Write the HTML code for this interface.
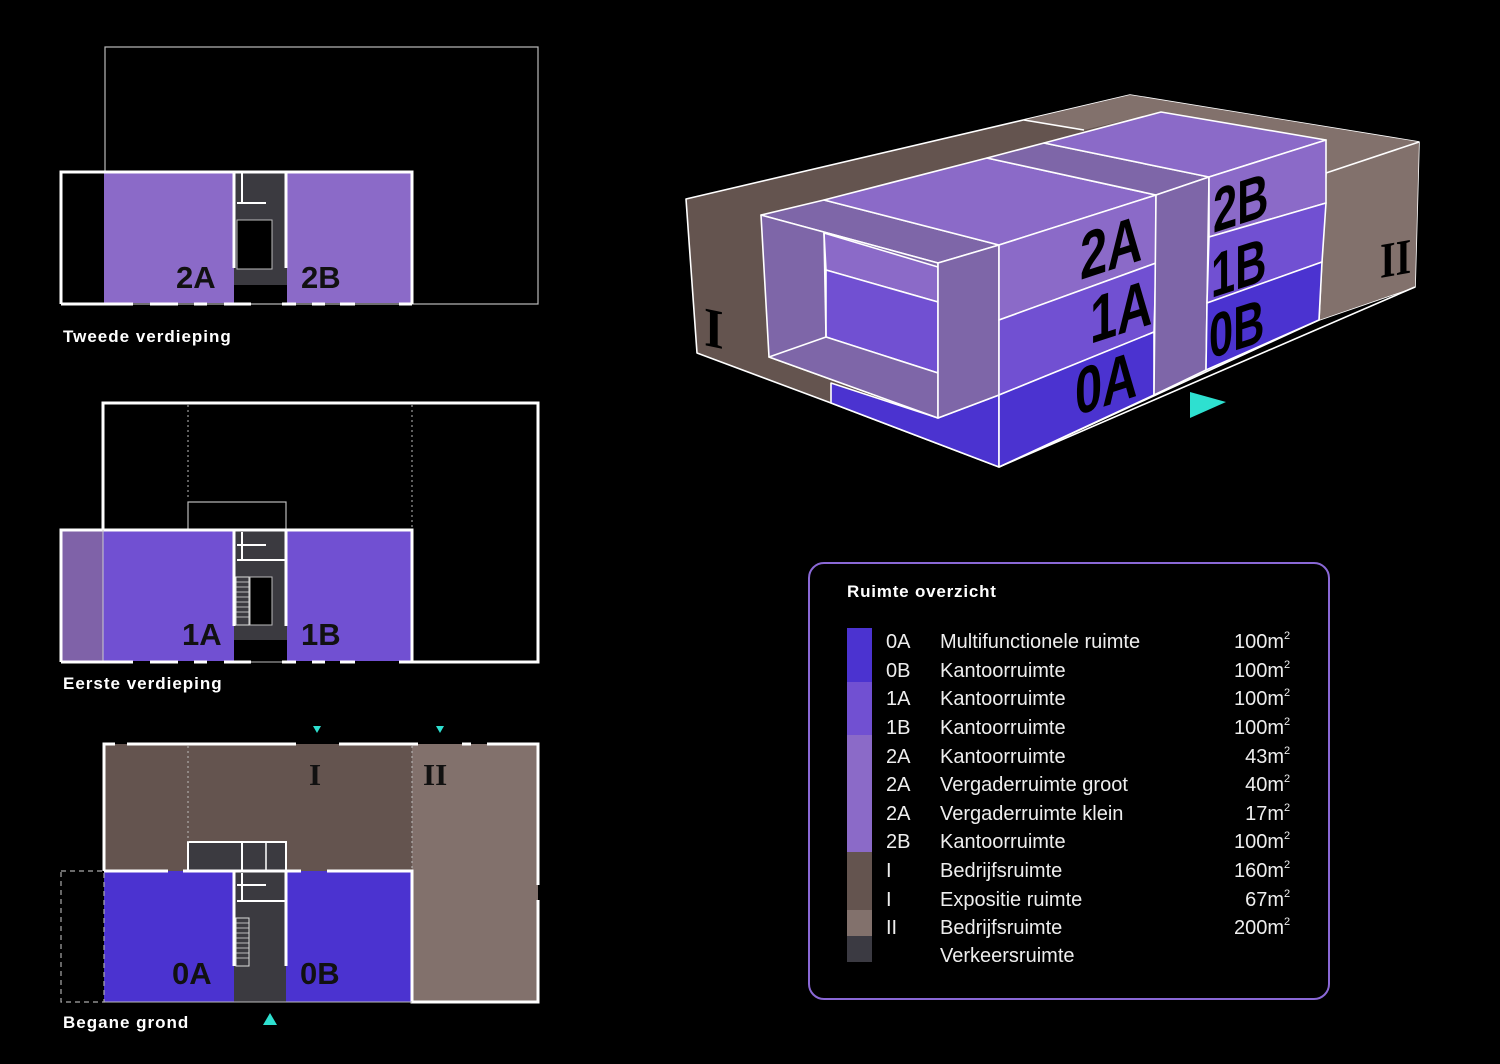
<!DOCTYPE html>
<html><head><meta charset="utf-8">
<style>
html,body{margin:0;padding:0;background:#000;}
svg{display:block;}
.cap{font-family:"Liberation Sans",sans-serif;font-weight:bold;font-size:17px;fill:#fff;letter-spacing:1px;}
.pl{font-family:"Liberation Sans",sans-serif;font-weight:bold;font-size:31px;fill:#111;}
.lg{font-family:"Liberation Sans",sans-serif;font-size:20px;fill:#eee;}
.big{font-family:"Liberation Sans",sans-serif;font-weight:bold;fill:#000;}
</style></head>
<body>
<svg width="1500" height="1064" viewBox="0 0 1500 1064" xmlns="http://www.w3.org/2000/svg">
<rect width="1500" height="1064" fill="#000"/>

<!-- ===== Tweede verdieping ===== -->
<rect x="105" y="47" width="433" height="257" fill="none" stroke="#bbb" stroke-width="1.2"/>
<rect x="104" y="173" width="130" height="130" fill="#8b6ac8"/>
<rect x="287" y="173" width="124" height="130" fill="#8b6ac8"/>
<rect x="234" y="173" width="53" height="112" fill="#3b3a40"/>
<rect x="237" y="220" width="35" height="49" fill="#000" stroke="#bbb" stroke-width="1"/>
<line x1="237" y1="203" x2="266" y2="203" stroke="#fff" stroke-width="2"/>
<line x1="242" y1="173" x2="242" y2="203" stroke="#fff" stroke-width="2"/>
<line x1="234" y1="173" x2="234" y2="268" stroke="#fff" stroke-width="3"/>
<line x1="286" y1="173" x2="286" y2="268" stroke="#fff" stroke-width="3"/>
<polyline points="61,304 61,172 412,172 412,304" fill="none" stroke="#fff" stroke-width="3"/>
<g stroke="#fff" stroke-width="3">
<line x1="61" y1="304" x2="133" y2="304"/><line x1="150" y1="304" x2="178" y2="304"/><line x1="194" y1="304" x2="207" y2="304"/><line x1="224" y1="304" x2="251" y2="304"/><line x1="282" y1="304" x2="296" y2="304"/><line x1="312" y1="304" x2="325" y2="304"/><line x1="340" y1="304" x2="355" y2="304"/><line x1="399" y1="304" x2="412" y2="304"/>
</g>
<line x1="251" y1="304" x2="282" y2="304" stroke="#bbb" stroke-width="1"/>
<text class="pl" x="176" y="288">2A</text>
<text class="pl" x="301" y="288">2B</text>
<text class="cap" x="63" y="342">Tweede verdieping</text>

<!-- ===== Eerste verdieping ===== -->
<rect x="61" y="530" width="42" height="131" fill="#7f62a8"/>
<rect x="103" y="530" width="131" height="131" fill="#7150d2"/>
<rect x="287" y="530" width="125" height="131" fill="#7150d2"/>
<rect x="234" y="530" width="53" height="110" fill="#3b3a40"/>
<rect x="250" y="577" width="22" height="48" fill="#000" stroke="#bbb" stroke-width="1"/>
<rect x="236" y="577" width="13" height="48" fill="none" stroke="#ddd" stroke-width="1"/>
<g stroke="#ddd" stroke-width="0.8"><line x1="236" y1="582" x2="249" y2="582"/><line x1="236" y1="587" x2="249" y2="587"/><line x1="236" y1="592" x2="249" y2="592"/><line x1="236" y1="597" x2="249" y2="597"/><line x1="236" y1="602" x2="249" y2="602"/><line x1="236" y1="607" x2="249" y2="607"/><line x1="236" y1="612" x2="249" y2="612"/><line x1="236" y1="617" x2="249" y2="617"/></g>
<line x1="237" y1="545" x2="266" y2="545" stroke="#fff" stroke-width="2"/>
<line x1="237" y1="560" x2="287" y2="560" stroke="#fff" stroke-width="2"/>
<line x1="242" y1="532" x2="242" y2="560" stroke="#fff" stroke-width="2"/>
<line x1="234" y1="530" x2="234" y2="626" stroke="#fff" stroke-width="3"/>
<line x1="286" y1="530" x2="286" y2="626" stroke="#fff" stroke-width="3"/>
<rect x="188" y="502" width="98" height="28" fill="none" stroke="#bbb" stroke-width="1.2"/>
<line x1="188" y1="405" x2="188" y2="500" stroke="#bbb" stroke-width="1" stroke-dasharray="2,3"/>
<line x1="412" y1="405" x2="412" y2="528" stroke="#bbb" stroke-width="1" stroke-dasharray="2,3"/>
<polyline points="103,530 103,403 538,403 538,662 412,662 412,530 61,530 61,662" fill="none" stroke="#fff" stroke-width="3"/>
<line x1="103" y1="530" x2="103" y2="661" stroke="#ccc" stroke-width="1"/>
<g stroke="#fff" stroke-width="3">
<line x1="61" y1="662" x2="133" y2="662"/><line x1="150" y1="662" x2="178" y2="662"/><line x1="194" y1="662" x2="207" y2="662"/><line x1="224" y1="662" x2="251" y2="662"/><line x1="282" y1="662" x2="296" y2="662"/><line x1="312" y1="662" x2="325" y2="662"/><line x1="340" y1="662" x2="355" y2="662"/><line x1="399" y1="662" x2="412" y2="662"/>
</g>
<line x1="251" y1="662" x2="282" y2="662" stroke="#bbb" stroke-width="1"/>
<text class="pl" x="182" y="645">1A</text>
<text class="pl" x="301" y="645">1B</text>
<text class="cap" x="63" y="689">Eerste verdieping</text>

<!-- ===== Begane grond ===== -->
<rect x="104" y="744" width="308" height="127" fill="#64544f"/>
<rect x="412" y="744" width="126" height="258" fill="#82716c"/>
<rect x="104" y="871" width="130" height="131" fill="#4b33d0"/>
<rect x="286" y="871" width="125" height="131" fill="#4b33d0"/>
<rect x="234" y="871" width="52" height="131" fill="#3b3a40"/>
<rect x="188" y="842" width="98" height="29" fill="#3b3a40" stroke="#fff" stroke-width="2"/>
<line x1="242" y1="842" x2="242" y2="871" stroke="#fff" stroke-width="2"/>
<line x1="266" y1="842" x2="266" y2="871" stroke="#fff" stroke-width="1.5"/>
<line x1="237" y1="885" x2="266" y2="885" stroke="#fff" stroke-width="2"/>
<line x1="237" y1="901" x2="287" y2="901" stroke="#fff" stroke-width="2"/>
<line x1="242" y1="873" x2="242" y2="901" stroke="#fff" stroke-width="2"/>
<rect x="236" y="918" width="13" height="48" fill="none" stroke="#ddd" stroke-width="1"/>
<g stroke="#ddd" stroke-width="0.8"><line x1="236" y1="923" x2="249" y2="923"/><line x1="236" y1="928" x2="249" y2="928"/><line x1="236" y1="933" x2="249" y2="933"/><line x1="236" y1="938" x2="249" y2="938"/><line x1="236" y1="943" x2="249" y2="943"/><line x1="236" y1="948" x2="249" y2="948"/><line x1="236" y1="953" x2="249" y2="953"/><line x1="236" y1="958" x2="249" y2="958"/></g>
<line x1="234" y1="871" x2="234" y2="966" stroke="#fff" stroke-width="3"/>
<line x1="286" y1="871" x2="286" y2="966" stroke="#fff" stroke-width="3"/>
<line x1="188" y1="746" x2="188" y2="842" stroke="#bbb" stroke-width="1" stroke-dasharray="2,3"/>
<line x1="412" y1="746" x2="412" y2="870" stroke="#bbb" stroke-width="1" stroke-dasharray="2,3"/>
<rect x="61" y="871" width="43" height="131" fill="none" stroke="#aaa" stroke-width="1.2" stroke-dasharray="5,4"/>
<g stroke="#fff" stroke-width="3" fill="none">
<polyline points="104,871 104,744 115,744"/>
<line x1="127" y1="744" x2="296" y2="744"/>
<line x1="339" y1="744" x2="418" y2="744"/>
<line x1="462" y1="744" x2="471" y2="744"/>
<polyline points="487,744 538,744 538,885"/>
<polyline points="538,900 538,1002 412,1002 412,871 327,871"/>
<line x1="104" y1="871" x2="168" y2="871"/>
<line x1="183" y1="871" x2="301" y2="871"/>
</g>
<line x1="104" y1="1002" x2="412" y2="1002" stroke="#bbb" stroke-width="1"/>
<text class="pl" x="309" y="785" style="font-family:'Liberation Serif',serif;font-weight:900">I</text>
<text class="pl" x="423" y="785" style="font-family:'Liberation Serif',serif;font-weight:900">II</text>
<text class="pl" x="172" y="984">0A</text>
<text class="pl" x="300" y="984">0B</text>
<polygon points="313,726 321,726 317,733" fill="#2ee0d0"/>
<polygon points="436,726 444,726 440,733" fill="#2ee0d0"/>
<polygon points="263,1025 277,1025 270,1013" fill="#2ee0d0"/>
<text class="cap" x="63" y="1028">Begane grond</text>

<!-- ===== 3D building ===== -->
<g stroke="#fff" stroke-width="1.6" stroke-linejoin="round">
<polygon points="686,199 1130,95 1419,142 1415,287 1319,320 999,467 831,403 697,353" fill="#64544f"/>
<polygon points="1024,120 1130,95 1419,142 1415,287 1319,320 1326,140 1161,112 1084,130" fill="#82716c" stroke="none"/>
<line x1="1024" y1="120" x2="1084" y2="130"/>
<line x1="1419" y1="142" x2="1326" y2="173"/>
<line x1="1326" y1="173" x2="1319" y2="320"/>
<polygon points="831,383 938,418 999,395 999,467 831,403" fill="#4b33d0"/>
<polygon points="761,215 824,200 999,245 938,263" fill="#7e66a8"/>
<polygon points="761,215 938,263 938,418 769,357" fill="#7e66a8"/>
<polygon points="824,233 938,267 938,302 826,270" fill="#8b6ac8"/>
<polygon points="826,270 938,302 938,373 826,337" fill="#7150d2"/>
<polygon points="769,357 826,337 938,373 938,418" fill="#7e66a8"/>
<line x1="824" y1="233" x2="826" y2="337" />
<polygon points="938,263 999,245 999,395 938,418" fill="#7e66a8"/>
<polygon points="824,200 987,158 1156,195 999,245" fill="#8b6ac8"/>
<polygon points="987,158 1044,143 1209,177 1156,195" fill="#7e66a8"/>
<polygon points="1044,143 1161,112 1326,140 1209,177" fill="#8b6ac8"/>
<polygon points="999,245 1156,195 1156,263 999,320" fill="#8b6ac8"/>
<polygon points="999,320 1156,263 1154,332 999,395" fill="#7150d2"/>
<polygon points="999,395 1154,332 1154,395 999,467" fill="#4b33d0"/>
<polygon points="1156,195 1209,177 1206,370 1154,395" fill="#7e66a8"/>
<polygon points="1209,177 1326,140 1326,203 1209,237" fill="#8b6ac8"/>
<polygon points="1209,237 1326,203 1322,262 1207,303" fill="#7150d2"/>
<polygon points="1207,303 1322,262 1319,320 1206,370" fill="#4b33d0"/>
</g>
<line x1="999" y1="467" x2="1415" y2="287" stroke="#fff" stroke-width="1.6"/>
<g class="big" font-size="66">
<text transform="translate(1080,280) skewY(-18) scale(0.74,1)">2A</text>
<text transform="translate(1090,344) skewY(-18) scale(0.74,1)">1A</text>
<text transform="translate(1075,416) skewY(-18) scale(0.74,1)">0A</text>
<text transform="translate(1213,233) skewY(-18) scale(0.7,1)" font-size="62">2B</text>
<text transform="translate(1211,298) skewY(-18) scale(0.7,1)" font-size="62">1B</text>
<text transform="translate(1209,359) skewY(-18) scale(0.7,1)" font-size="62">0B</text>
<text transform="translate(704,345) skewY(12) scale(0.9,1)" font-size="56" style="font-family:'Liberation Serif',serif;font-weight:900">I</text>
<text transform="translate(1380,278) skewY(-10) scale(0.8,1)" font-size="50" style="font-family:'Liberation Serif',serif;font-weight:900">II</text>
</g>
<polygon points="1190,392 1226,402 1190,418" fill="#2ee0d0"/>

<!-- ===== Legend ===== -->
<rect x="809" y="563" width="520" height="436" rx="15" fill="none" stroke="#8a68d6" stroke-width="2"/>
<text class="cap" x="847" y="597" style="font-size:17px;letter-spacing:0.8px">Ruimte overzicht</text>
<rect x="847" y="628" width="25" height="54" fill="#4b33d0"/>
<rect x="847" y="682" width="25" height="53" fill="#7150d2"/>
<rect x="847" y="735" width="25" height="117" fill="#8b6ac8"/>
<rect x="847" y="852" width="25" height="58" fill="#64544f"/>
<rect x="847" y="910" width="25" height="26" fill="#82716c"/>
<rect x="847" y="936" width="25" height="26" fill="#3b3a42"/>
<g class="lg">
<text x="886" y="648">0A</text><text x="940" y="648">Multifunctionele ruimte</text>
<text x="886" y="677">0B</text><text x="940" y="677">Kantoorruimte</text>
<text x="886" y="705">1A</text><text x="940" y="705">Kantoorruimte</text>
<text x="886" y="734">1B</text><text x="940" y="734">Kantoorruimte</text>
<text x="886" y="763">2A</text><text x="940" y="763">Kantoorruimte</text>
<text x="886" y="791">2A</text><text x="940" y="791">Vergaderruimte groot</text>
<text x="886" y="820">2A</text><text x="940" y="820">Vergaderruimte klein</text>
<text x="886" y="848">2B</text><text x="940" y="848">Kantoorruimte</text>
<text x="886" y="877">I</text><text x="940" y="877">Bedrijfsruimte</text>
<text x="886" y="906">I</text><text x="940" y="906">Expositie ruimte</text>
<text x="886" y="934">II</text><text x="940" y="934">Bedrijfsruimte</text>
<text x="940" y="962">Verkeersruimte</text>
</g>
<g class="lg" text-anchor="end">
<text x="1284" y="648">100m</text><text x="1284" y="677">100m</text><text x="1284" y="705">100m</text><text x="1284" y="734">100m</text>
<text x="1284" y="763">43m</text><text x="1284" y="791">40m</text><text x="1284" y="820">17m</text><text x="1284" y="848">100m</text>
<text x="1284" y="877">160m</text><text x="1284" y="906">67m</text><text x="1284" y="934">200m</text>
</g>
<g class="lg" style="font-size:11px">
<text x="1284" y="639">2</text><text x="1284" y="668">2</text><text x="1284" y="696">2</text><text x="1284" y="725">2</text>
<text x="1284" y="754">2</text><text x="1284" y="782">2</text><text x="1284" y="811">2</text><text x="1284" y="839">2</text>
<text x="1284" y="868">2</text><text x="1284" y="897">2</text><text x="1284" y="925">2</text>
</g>
</svg>
</body></html>
